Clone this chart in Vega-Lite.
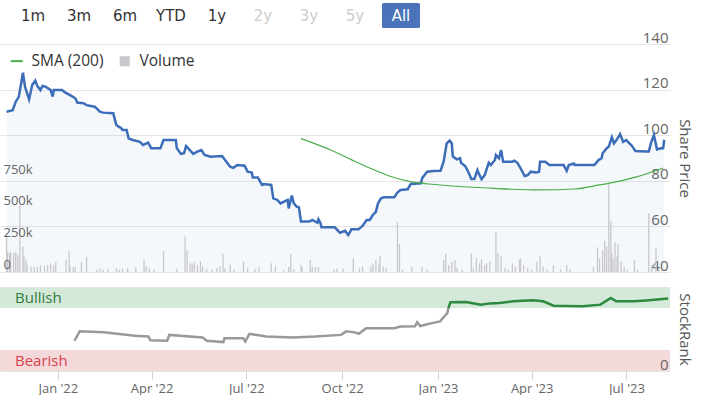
{
  "$schema": "https://vega.github.io/schema/vega-lite/v6.json",
  "padding": {"left": 0, "top": 0, "right": 8, "bottom": 0},
  "background": "white",
  "bounds": "flush",
  "spacing": 15,
  "resolve": {"scale": {"color": "independent", "x": "independent"}, "legend": {"color": "independent"}},
  "config": {
    "view": {"stroke": null},
    "font": "Open Sans",
    "axis": {"labelFont": "Open Sans", "titleFont": "Open Sans"},
    "legend": {"labelFont": "Open Sans"}
  },
  "datasets": {
    "buttons": [
      {"label": "1m", "state": "enabled"},
      {"label": "3m", "state": "enabled"},
      {"label": "6m", "state": "enabled"},
      {"label": "YTD", "state": "enabled"},
      {"label": "1y", "state": "enabled"},
      {"label": "2y", "state": "disabled"},
      {"label": "3y", "state": "disabled"},
      {"label": "5y", "state": "disabled"},
      {"label": "All", "state": "active"}
    ],
    "price": [
      {"date": "2021-11-08", "price": 110.3},
      {"date": "2021-11-14", "price": 111},
      {"date": "2021-11-17", "price": 114.7},
      {"date": "2021-11-20", "price": 116.9},
      {"date": "2021-11-24", "price": 127.4},
      {"date": "2021-11-26", "price": 121.3},
      {"date": "2021-11-30", "price": 115.7},
      {"date": "2021-12-03", "price": 122},
      {"date": "2021-12-06", "price": 123.9},
      {"date": "2021-12-08", "price": 121.6},
      {"date": "2021-12-11", "price": 119.8},
      {"date": "2021-12-13", "price": 121.6},
      {"date": "2021-12-16", "price": 121.3},
      {"date": "2021-12-21", "price": 119.8},
      {"date": "2021-12-23", "price": 116.9},
      {"date": "2021-12-24", "price": 119.8},
      {"date": "2022-01-01", "price": 119.8},
      {"date": "2022-01-04", "price": 118.8},
      {"date": "2022-01-09", "price": 117.6},
      {"date": "2022-01-14", "price": 116.2},
      {"date": "2022-01-16", "price": 114.3},
      {"date": "2022-01-22", "price": 114},
      {"date": "2022-01-25", "price": 113.2},
      {"date": "2022-02-02", "price": 112.5},
      {"date": "2022-02-07", "price": 110.3},
      {"date": "2022-02-10", "price": 109.9},
      {"date": "2022-02-20", "price": 109.6},
      {"date": "2022-02-23", "price": 104.5},
      {"date": "2022-02-28", "price": 103},
      {"date": "2022-03-01", "price": 102.3},
      {"date": "2022-03-05", "price": 102.3},
      {"date": "2022-03-07", "price": 98.6},
      {"date": "2022-03-11", "price": 97.9},
      {"date": "2022-03-18", "price": 97.1},
      {"date": "2022-03-21", "price": 95.7},
      {"date": "2022-03-26", "price": 96.7},
      {"date": "2022-03-29", "price": 94.3},
      {"date": "2022-04-07", "price": 94.3},
      {"date": "2022-04-10", "price": 97.9},
      {"date": "2022-04-22", "price": 97.9},
      {"date": "2022-04-23", "price": 94.3},
      {"date": "2022-04-27", "price": 91.8},
      {"date": "2022-04-30", "price": 92.1},
      {"date": "2022-05-02", "price": 95.3},
      {"date": "2022-05-05", "price": 93.8},
      {"date": "2022-05-09", "price": 91.8},
      {"date": "2022-05-13", "price": 92.8},
      {"date": "2022-05-17", "price": 93.5},
      {"date": "2022-05-20", "price": 91.3},
      {"date": "2022-05-26", "price": 90.6},
      {"date": "2022-06-06", "price": 90.9},
      {"date": "2022-06-09", "price": 89.1},
      {"date": "2022-06-14", "price": 86.2},
      {"date": "2022-06-17", "price": 85.7},
      {"date": "2022-06-21", "price": 86.9},
      {"date": "2022-06-28", "price": 86.6},
      {"date": "2022-07-01", "price": 84},
      {"date": "2022-07-05", "price": 83.6},
      {"date": "2022-07-06", "price": 81.5},
      {"date": "2022-07-11", "price": 81.5},
      {"date": "2022-07-15", "price": 78.2},
      {"date": "2022-07-17", "price": 78.6},
      {"date": "2022-07-24", "price": 78.2},
      {"date": "2022-07-26", "price": 72.3},
      {"date": "2022-07-30", "price": 71.6},
      {"date": "2022-08-02", "price": 70.1},
      {"date": "2022-08-05", "price": 70.8},
      {"date": "2022-08-09", "price": 71.6},
      {"date": "2022-08-10", "price": 67.9},
      {"date": "2022-08-13", "price": 73.5},
      {"date": "2022-08-15", "price": 70.1},
      {"date": "2022-08-18", "price": 68.6},
      {"date": "2022-08-20", "price": 68.4},
      {"date": "2022-08-22", "price": 62.1},
      {"date": "2022-08-30", "price": 62.1},
      {"date": "2022-09-02", "price": 62.8},
      {"date": "2022-09-07", "price": 61.6},
      {"date": "2022-09-08", "price": 63.1},
      {"date": "2022-09-10", "price": 61.4},
      {"date": "2022-09-11", "price": 59.6},
      {"date": "2022-09-24", "price": 59.6},
      {"date": "2022-09-29", "price": 57.2},
      {"date": "2022-10-04", "price": 58.1},
      {"date": "2022-10-07", "price": 56.2},
      {"date": "2022-10-09", "price": 57.7},
      {"date": "2022-10-10", "price": 58.7},
      {"date": "2022-10-17", "price": 58.7},
      {"date": "2022-10-21", "price": 60.2},
      {"date": "2022-10-25", "price": 62.8},
      {"date": "2022-10-28", "price": 62.8},
      {"date": "2022-10-31", "price": 65},
      {"date": "2022-11-03", "price": 66.4},
      {"date": "2022-11-05", "price": 70.1},
      {"date": "2022-11-08", "price": 72.3},
      {"date": "2022-11-11", "price": 72.8},
      {"date": "2022-11-21", "price": 72.8},
      {"date": "2022-11-24", "price": 74.8},
      {"date": "2022-11-27", "price": 76},
      {"date": "2022-12-04", "price": 76.3},
      {"date": "2022-12-07", "price": 78.6},
      {"date": "2022-12-17", "price": 78.9},
      {"date": "2022-12-18", "price": 81.1},
      {"date": "2022-12-23", "price": 84},
      {"date": "2022-12-29", "price": 84.3},
      {"date": "2023-01-05", "price": 84.4},
      {"date": "2023-01-08", "price": 88.4},
      {"date": "2023-01-11", "price": 96.4},
      {"date": "2023-01-14", "price": 97.6},
      {"date": "2023-01-16", "price": 96.4},
      {"date": "2023-01-17", "price": 90.6},
      {"date": "2023-01-21", "price": 89.4},
      {"date": "2023-01-24", "price": 89.9},
      {"date": "2023-01-25", "price": 87.9},
      {"date": "2023-01-29", "price": 86.5},
      {"date": "2023-02-01", "price": 84},
      {"date": "2023-02-04", "price": 80.8},
      {"date": "2023-02-07", "price": 80.8},
      {"date": "2023-02-10", "price": 84.7},
      {"date": "2023-02-12", "price": 82.5},
      {"date": "2023-02-14", "price": 80.7},
      {"date": "2023-02-17", "price": 82.5},
      {"date": "2023-02-21", "price": 87.9},
      {"date": "2023-02-23", "price": 86.9},
      {"date": "2023-02-27", "price": 89.1},
      {"date": "2023-02-28", "price": 91.3},
      {"date": "2023-03-03", "price": 89.9},
      {"date": "2023-03-05", "price": 93.5},
      {"date": "2023-03-07", "price": 88.4},
      {"date": "2023-03-16", "price": 88.4},
      {"date": "2023-03-18", "price": 88.8},
      {"date": "2023-03-21", "price": 87.9},
      {"date": "2023-03-24", "price": 85.5},
      {"date": "2023-03-28", "price": 82.1},
      {"date": "2023-03-31", "price": 82.5},
      {"date": "2023-04-03", "price": 84},
      {"date": "2023-04-08", "price": 83.6},
      {"date": "2023-04-11", "price": 84},
      {"date": "2023-04-12", "price": 88.4},
      {"date": "2023-04-17", "price": 88.4},
      {"date": "2023-04-21", "price": 86.9},
      {"date": "2023-05-05", "price": 86.9},
      {"date": "2023-05-08", "price": 84.4},
      {"date": "2023-05-10", "price": 86.9},
      {"date": "2023-05-15", "price": 87.6},
      {"date": "2023-05-16", "price": 86.9},
      {"date": "2023-06-04", "price": 86.9},
      {"date": "2023-06-08", "price": 89.1},
      {"date": "2023-06-11", "price": 89.9},
      {"date": "2023-06-12", "price": 92.1},
      {"date": "2023-06-16", "price": 94.3},
      {"date": "2023-06-18", "price": 95},
      {"date": "2023-06-21", "price": 99.1},
      {"date": "2023-06-23", "price": 96.4},
      {"date": "2023-06-26", "price": 98.2},
      {"date": "2023-06-29", "price": 100.5},
      {"date": "2023-07-02", "price": 97.1},
      {"date": "2023-07-05", "price": 97.9},
      {"date": "2023-07-08", "price": 96.4},
      {"date": "2023-07-10", "price": 95.7},
      {"date": "2023-07-14", "price": 93.1},
      {"date": "2023-07-24", "price": 92.8},
      {"date": "2023-07-27", "price": 92.8},
      {"date": "2023-07-29", "price": 96.4},
      {"date": "2023-08-01", "price": 100.1},
      {"date": "2023-08-04", "price": 93.8},
      {"date": "2023-08-08", "price": 94.3},
      {"date": "2023-08-10", "price": 94.3},
      {"date": "2023-08-11", "price": 98}
    ],
    "sma": [
      {"date": "2022-08-22", "sma": 98.5},
      {"date": "2022-09-05", "sma": 96.2},
      {"date": "2022-09-20", "sma": 93.5},
      {"date": "2022-10-10", "sma": 89.3},
      {"date": "2022-10-28", "sma": 85.6},
      {"date": "2022-11-16", "sma": 82.1},
      {"date": "2022-12-08", "sma": 79.5},
      {"date": "2022-12-25", "sma": 78.6},
      {"date": "2023-01-23", "sma": 77.5},
      {"date": "2023-02-23", "sma": 76.8},
      {"date": "2023-03-15", "sma": 76.3},
      {"date": "2023-04-12", "sma": 76},
      {"date": "2023-05-15", "sma": 76.4},
      {"date": "2023-06-09", "sma": 78.2},
      {"date": "2023-06-19", "sma": 79},
      {"date": "2023-07-15", "sma": 81.7},
      {"date": "2023-08-10", "sma": 85.6}
    ],
    "volume": [
      {"date": "2021-11-08", "volume": 305000},
      {"date": "2021-11-09", "volume": 160000},
      {"date": "2021-11-11", "volume": 150000},
      {"date": "2021-11-12", "volume": 160000},
      {"date": "2021-11-15", "volume": 150000},
      {"date": "2021-11-17", "volume": 160000},
      {"date": "2021-11-19", "volume": 134000},
      {"date": "2021-11-21", "volume": 529000},
      {"date": "2021-11-24", "volume": 200000},
      {"date": "2021-11-25", "volume": 121000},
      {"date": "2021-11-27", "volume": 95000},
      {"date": "2021-11-28", "volume": 55000},
      {"date": "2021-12-02", "volume": 42000},
      {"date": "2021-12-05", "volume": 40000},
      {"date": "2021-12-08", "volume": 40000},
      {"date": "2021-12-11", "volume": 55000},
      {"date": "2021-12-15", "volume": 50000},
      {"date": "2021-12-18", "volume": 55000},
      {"date": "2021-12-21", "volume": 68000},
      {"date": "2021-12-24", "volume": 55000},
      {"date": "2021-12-26", "volume": 80000},
      {"date": "2022-01-05", "volume": 95000},
      {"date": "2022-01-08", "volume": 165000},
      {"date": "2022-01-09", "volume": 42000},
      {"date": "2022-01-12", "volume": 40000},
      {"date": "2022-01-14", "volume": 42000},
      {"date": "2022-01-20", "volume": 80000},
      {"date": "2022-01-25", "volume": 121000},
      {"date": "2022-02-04", "volume": 20000},
      {"date": "2022-02-07", "volume": 30000},
      {"date": "2022-02-10", "volume": 20000},
      {"date": "2022-02-15", "volume": 25000},
      {"date": "2022-02-23", "volume": 30000},
      {"date": "2022-02-26", "volume": 20000},
      {"date": "2022-03-01", "volume": 25000},
      {"date": "2022-03-06", "volume": 30000},
      {"date": "2022-03-14", "volume": 40000},
      {"date": "2022-03-22", "volume": 95000},
      {"date": "2022-03-24", "volume": 45000},
      {"date": "2022-03-27", "volume": 30000},
      {"date": "2022-04-01", "volume": 20000},
      {"date": "2022-04-10", "volume": 165000},
      {"date": "2022-04-23", "volume": 25000},
      {"date": "2022-05-01", "volume": 280000},
      {"date": "2022-05-03", "volume": 170000},
      {"date": "2022-05-06", "volume": 70000},
      {"date": "2022-05-08", "volume": 68000},
      {"date": "2022-05-10", "volume": 80000},
      {"date": "2022-05-13", "volume": 55000},
      {"date": "2022-05-16", "volume": 87000},
      {"date": "2022-05-18", "volume": 45000},
      {"date": "2022-05-22", "volume": 25000},
      {"date": "2022-05-27", "volume": 20000},
      {"date": "2022-06-01", "volume": 30000},
      {"date": "2022-06-04", "volume": 45000},
      {"date": "2022-06-07", "volume": 145000},
      {"date": "2022-06-09", "volume": 30000},
      {"date": "2022-06-14", "volume": 55000},
      {"date": "2022-06-18", "volume": 20000},
      {"date": "2022-06-27", "volume": 80000},
      {"date": "2022-07-01", "volume": 30000},
      {"date": "2022-07-08", "volume": 25000},
      {"date": "2022-07-12", "volume": 40000},
      {"date": "2022-07-24", "volume": 70000},
      {"date": "2022-07-28", "volume": 45000},
      {"date": "2022-08-05", "volume": 15000},
      {"date": "2022-08-10", "volume": 40000},
      {"date": "2022-08-12", "volume": 140000},
      {"date": "2022-08-15", "volume": 20000},
      {"date": "2022-08-22", "volume": 55000},
      {"date": "2022-08-23", "volume": 40000},
      {"date": "2022-08-31", "volume": 95000},
      {"date": "2022-09-02", "volume": 40000},
      {"date": "2022-09-05", "volume": 40000},
      {"date": "2022-09-08", "volume": 40000},
      {"date": "2022-09-23", "volume": 20000},
      {"date": "2022-09-26", "volume": 25000},
      {"date": "2022-10-02", "volume": 29000},
      {"date": "2022-10-12", "volume": 108000},
      {"date": "2022-10-18", "volume": 29000},
      {"date": "2022-10-21", "volume": 42000},
      {"date": "2022-10-29", "volume": 42000},
      {"date": "2022-10-31", "volume": 69000},
      {"date": "2022-11-03", "volume": 95000},
      {"date": "2022-11-06", "volume": 69000},
      {"date": "2022-11-07", "volume": 126000},
      {"date": "2022-11-10", "volume": 42000},
      {"date": "2022-11-13", "volume": 34000},
      {"date": "2022-11-24", "volume": 392000},
      {"date": "2022-11-26", "volume": 221000},
      {"date": "2022-11-29", "volume": 20000},
      {"date": "2022-12-08", "volume": 42000},
      {"date": "2022-12-18", "volume": 42000},
      {"date": "2022-12-23", "volume": 20000},
      {"date": "2023-01-08", "volume": 95000},
      {"date": "2023-01-10", "volume": 142000},
      {"date": "2023-01-13", "volume": 55000},
      {"date": "2023-01-16", "volume": 80000},
      {"date": "2023-01-19", "volume": 95000},
      {"date": "2023-01-21", "volume": 34000},
      {"date": "2023-01-26", "volume": 20000},
      {"date": "2023-02-04", "volume": 148000},
      {"date": "2023-02-06", "volume": 29000},
      {"date": "2023-02-09", "volume": 108000},
      {"date": "2023-02-12", "volume": 69000},
      {"date": "2023-02-14", "volume": 100000},
      {"date": "2023-02-17", "volume": 55000},
      {"date": "2023-02-19", "volume": 69000},
      {"date": "2023-02-22", "volume": 85000},
      {"date": "2023-02-28", "volume": 318000},
      {"date": "2023-03-02", "volume": 150000},
      {"date": "2023-03-05", "volume": 122000},
      {"date": "2023-03-09", "volume": 34000},
      {"date": "2023-03-12", "volume": 20000},
      {"date": "2023-03-16", "volume": 69000},
      {"date": "2023-03-19", "volume": 42000},
      {"date": "2023-03-23", "volume": 95000},
      {"date": "2023-03-24", "volume": 108000},
      {"date": "2023-03-27", "volume": 55000},
      {"date": "2023-03-31", "volume": 34000},
      {"date": "2023-04-04", "volume": 20000},
      {"date": "2023-04-09", "volume": 82000},
      {"date": "2023-04-12", "volume": 126000},
      {"date": "2023-04-15", "volume": 42000},
      {"date": "2023-04-19", "volume": 20000},
      {"date": "2023-04-25", "volume": 55000},
      {"date": "2023-05-02", "volume": 20000},
      {"date": "2023-05-08", "volume": 55000},
      {"date": "2023-05-11", "volume": 20000},
      {"date": "2023-06-03", "volume": 42000},
      {"date": "2023-06-07", "volume": 195000},
      {"date": "2023-06-09", "volume": 108000},
      {"date": "2023-06-12", "volume": 170000},
      {"date": "2023-06-14", "volume": 247000},
      {"date": "2023-06-16", "volume": 205000},
      {"date": "2023-06-18", "volume": 690000},
      {"date": "2023-06-20", "volume": 403000},
      {"date": "2023-06-21", "volume": 150000},
      {"date": "2023-06-22", "volume": 108000},
      {"date": "2023-06-24", "volume": 235000},
      {"date": "2023-06-26", "volume": 122000},
      {"date": "2023-06-27", "volume": 220000},
      {"date": "2023-06-30", "volume": 82000},
      {"date": "2023-07-03", "volume": 42000},
      {"date": "2023-07-06", "volume": 20000},
      {"date": "2023-07-13", "volume": 95000},
      {"date": "2023-07-16", "volume": 20000},
      {"date": "2023-07-27", "volume": 463000},
      {"date": "2023-07-30", "volume": 55000},
      {"date": "2023-08-03", "volume": 187000},
      {"date": "2023-08-06", "volume": 29000}
    ],
    "zones": [
      {"zone": "Bullish", "lo": 75, "hi": 100, "mid": 87.5},
      {"zone": "Bearish", "lo": 0, "hi": 25, "mid": 12.5}
    ],
    "rankBefore": [
      {"date": "2022-01-17", "rank": 36},
      {"date": "2022-01-22", "rank": 47.2},
      {"date": "2022-02-14", "rank": 46},
      {"date": "2022-03-16", "rank": 42},
      {"date": "2022-03-29", "rank": 41},
      {"date": "2022-03-31", "rank": 36.5},
      {"date": "2022-04-16", "rank": 36},
      {"date": "2022-04-18", "rank": 43},
      {"date": "2022-05-20", "rank": 40},
      {"date": "2022-05-24", "rank": 36},
      {"date": "2022-06-09", "rank": 34.4},
      {"date": "2022-06-10", "rank": 39},
      {"date": "2022-06-28", "rank": 39},
      {"date": "2022-06-30", "rank": 35},
      {"date": "2022-07-04", "rank": 44.3},
      {"date": "2022-07-20", "rank": 41},
      {"date": "2022-08-15", "rank": 40},
      {"date": "2022-09-05", "rank": 41},
      {"date": "2022-09-30", "rank": 43},
      {"date": "2022-10-05", "rank": 47.2},
      {"date": "2022-10-13", "rank": 46},
      {"date": "2022-10-17", "rank": 44.3},
      {"date": "2022-10-24", "rank": 51},
      {"date": "2022-11-20", "rank": 51},
      {"date": "2022-11-26", "rank": 53},
      {"date": "2022-12-10", "rank": 53.3},
      {"date": "2022-12-12", "rank": 58},
      {"date": "2022-12-15", "rank": 53.5},
      {"date": "2022-12-26", "rank": 57},
      {"date": "2023-01-03", "rank": 59},
      {"date": "2023-01-10", "rank": 69},
      {"date": "2023-01-11", "rank": 75}
    ],
    "rankAfter": [
      {"date": "2023-01-11", "rank": 75},
      {"date": "2023-01-13", "rank": 81.8},
      {"date": "2023-01-28", "rank": 82},
      {"date": "2023-02-11", "rank": 79},
      {"date": "2023-02-20", "rank": 80.5},
      {"date": "2023-03-01", "rank": 81},
      {"date": "2023-03-14", "rank": 83},
      {"date": "2023-04-02", "rank": 84.2},
      {"date": "2023-04-12", "rank": 83},
      {"date": "2023-04-22", "rank": 77.8},
      {"date": "2023-05-05", "rank": 77.5},
      {"date": "2023-05-20", "rank": 77},
      {"date": "2023-06-06", "rank": 79},
      {"date": "2023-06-16", "rank": 87},
      {"date": "2023-06-21", "rank": 83},
      {"date": "2023-07-08", "rank": 83},
      {"date": "2023-07-20", "rank": 84},
      {"date": "2023-08-10", "rank": 86.2}
    ]
  },
  "vconcat": [
    {
      "width": {"step": 46},
      "height": 29,
      "data": {"name": "buttons"},
      "layer": [
        {
          "mark": {"type": "text", "font": "DejaVu Sans", "fontSize": 15, "dy": 1},
          "encoding": {
            "x": {"field": "label", "type": "nominal", "sort": null, "scale": {"type": "point", "padding": 0.717, "domain": ["1m", "3m", "6m", "YTD", "1y", "2y", "3y", "5y", "All"]}, "axis": null},
            "text": {"field": "label"},
            "color": {"field": "state", "type": "nominal", "scale": {"domain": ["enabled", "disabled", "active"], "range": ["#333333", "#cccccc", "#ffffff"]}, "legend": null}
          }
        },
        {
          "transform": [{"filter": "datum.state == 'active'"}],
          "mark": {"type": "point", "shape": "M-0.9,-0.66L0.9,-0.66Q1,-0.66 1,-0.56L1,0.56Q1,0.66 0.9,0.66L-0.9,0.66Q-1,0.66 -1,0.56L-1,-0.56Q-1,-0.66 -0.9,-0.66Z", "size": 1444, "filled": true, "color": "#4a73b9", "opacity": 1, "yOffset": 1},
          "encoding": {
            "x": {"field": "label", "type": "nominal", "sort": null, "axis": null}
          }
        },
        {
          "transform": [{"filter": "datum.state == 'active'"}],
          "mark": {"type": "text", "font": "DejaVu Sans", "fontSize": 15, "dy": 1, "color": "#ffffff"},
          "encoding": {
            "x": {"field": "label", "type": "nominal", "sort": null, "axis": null},
            "text": {"field": "label"}
          }
        }
      ]
    },
    {
      "width": 670,
      "height": 228,
      "layer": [
        {
          "data": {"name": "price"},
          "mark": {"type": "area", "color": "#3c6db8", "opacity": 0.05},
          "encoding": {
            "x": {"field": "date", "type": "temporal", "scale": {"domain": [{"year": 2021, "month": 11, "date": 6, "hours": 12}, {"year": 2023, "month": 8, "date": 11, "hours": 19}]}, "axis": null},
            "y": {"field": "price", "type": "quantitative", "scale": {"domain": [40, 140], "nice": false, "zero": false},
              "axis": {"orient": "right", "values": [40, 60, 80, 100, 120, 140], "grid": true, "gridColor": "#e6e6e6", "ticks": false, "tickSize": 0, "domain": false, "labelAlign": "right", "labelPadding": -2, "labelBaseline": "alphabetic", "labelOffset": -2, "labelFontSize": 15, "labelColor": "#666666", "title": "Share Price", "titleFontSize": 15, "titleColor": "#555555", "titleFontWeight": "normal", "titlePadding": 6}},
            "y2": {"datum": 40}
          }
        },
        {
          "data": {"name": "volume"},
          "mark": {"type": "bar", "width": 1.3},
          "encoding": {
            "x": {"field": "date", "type": "temporal", "axis": null},
            "y": {"field": "volume", "type": "quantitative", "scale": {"domain": [0, 1800000], "nice": false},
              "axis": {"orient": "left", "values": [0, 250000, 500000, 750000], "labelExpr": "datum.value == 0 ? '0' : format(datum.value / 1000, 'd') + 'k'", "grid": false, "ticks": false, "tickSize": 0, "domain": false, "labelAlign": "left", "labelPadding": -3, "labelBaseline": "alphabetic", "labelOffset": -4, "labelFontSize": 13, "labelColor": "#666666", "title": null, "zindex": 1}},
            "color": {"datum": "Volume", "type": "nominal",
              "scale": {"domain": ["SMA (200)", "Volume"], "range": ["#4aad4a", "#c8c8cc"]},
              "legend": {"orient": "top-left", "direction": "horizontal", "title": null, "offset": 9, "padding": 0, "labelFontSize": 15.5, "labelColor": "#333333", "labelOffset": 7, "columnPadding": 12, "symbolSize": 100,
                "encode": {"symbols": {"update": {
                  "shape": {"signal": "datum.value === 'Volume' ? 'square' : 'stroke'"},
                  "size": {"signal": "datum.value === 'Volume' ? 64 : 144"},
                  "fill": {"signal": "datum.value === 'Volume' ? '#aaaaaa' : 'transparent'"},
                  "stroke": {"signal": "datum.value === 'Volume' ? 'transparent' : '#4aad4a'"},
                  "strokeWidth": {"value": 2}
                }}}}
            }
          }
        },
        {
          "data": {"name": "price"},
          "mark": {"type": "line", "color": "#3c6db8", "strokeWidth": 2.5},
          "encoding": {
            "x": {"field": "date", "type": "temporal", "axis": null},
            "y": {"field": "price", "type": "quantitative", "scale": {"domain": [40, 140], "nice": false, "zero": false}, "axis": null}
          }
        },
        {
          "data": {"name": "sma"},
          "mark": {"type": "line", "strokeWidth": 1.2, "interpolate": "monotone"},
          "encoding": {
            "x": {"field": "date", "type": "temporal", "axis": null},
            "y": {"field": "sma", "type": "quantitative", "scale": {"domain": [40, 140], "nice": false, "zero": false}, "axis": null},
            "color": {"datum": "SMA (200)", "type": "nominal"}
          }
        }
      ],
      "resolve": {"scale": {"y": "independent"}}
    },
    {
      "width": 670,
      "height": 84,
      "layer": [
        {
          "data": {"name": "zones"},
          "mark": {"type": "rect"},
          "encoding": {
            "y": {"field": "lo", "type": "quantitative", "scale": {"domain": [0, 100], "nice": false},
              "axis": {"orient": "right", "values": [0, 100], "labelExpr": "datum.value == 0 ? '0' : ''", "grid": true, "gridColor": "#e6e6e6", "ticks": false, "tickSize": 0, "domain": false, "labelAlign": "right", "labelPadding": -2, "labelBaseline": "alphabetic", "labelOffset": -2, "labelFontSize": 15, "labelColor": "#666666", "title": "StockRank", "titleFontSize": 15, "titleColor": "#555555", "titleFontWeight": "normal", "titlePadding": 6, "zindex": 1}},
            "y2": {"field": "hi"},
            "color": {"field": "zone", "type": "nominal", "scale": {"domain": ["Bullish", "Bearish"], "range": ["#d4e9da", "#f4d9db"]}, "legend": null}
          }
        },
        {
          "data": {"name": "zones"},
          "mark": {"type": "text", "align": "left", "dx": 15, "fontSize": 15, "font": "Open Sans"},
          "encoding": {
            "x": {"datum": {"year": 2021, "month": 11, "date": 6, "hours": 12}, "type": "temporal"},
            "y": {"field": "mid", "type": "quantitative"},
            "text": {"field": "zone"},
            "color": {"condition": {"test": "datum.zone == 'Bullish'", "value": "#2f7d3a"}, "value": "#d8424f"}
          }
        },
        {
          "data": {"name": "rankBefore"},
          "mark": {"type": "line", "color": "#999999", "strokeWidth": 2.5},
          "encoding": {
            "x": {"field": "date", "type": "temporal"},
            "y": {"field": "rank", "type": "quantitative"}
          }
        },
        {
          "data": {"name": "rankAfter"},
          "mark": {"type": "line", "color": "#2b8a3e", "strokeWidth": 2.5},
          "encoding": {
            "x": {"field": "date", "type": "temporal",
              "scale": {"domain": [{"year": 2021, "month": 11, "date": 6, "hours": 12}, {"year": 2023, "month": 8, "date": 11, "hours": 19}]},
              "axis": {"orient": "bottom", "values": [{"year": 2022, "month": 1, "date": 1}, {"year": 2022, "month": 4, "date": 1}, {"year": 2022, "month": 7, "date": 1}, {"year": 2022, "month": 10, "date": 1}, {"year": 2023, "month": 1, "date": 1}, {"year": 2023, "month": 4, "date": 1}, {"year": 2023, "month": 7, "date": 1}], "format": "%b '%y", "labelFontSize": 13, "labelColor": "#666666", "tickColor": "#d0d0d0", "tickSize": 8, "domain": false, "grid": false, "labelPadding": 3, "title": null}},
            "y": {"field": "rank", "type": "quantitative"}
          }
        }
      ]
    }
  ]
}
